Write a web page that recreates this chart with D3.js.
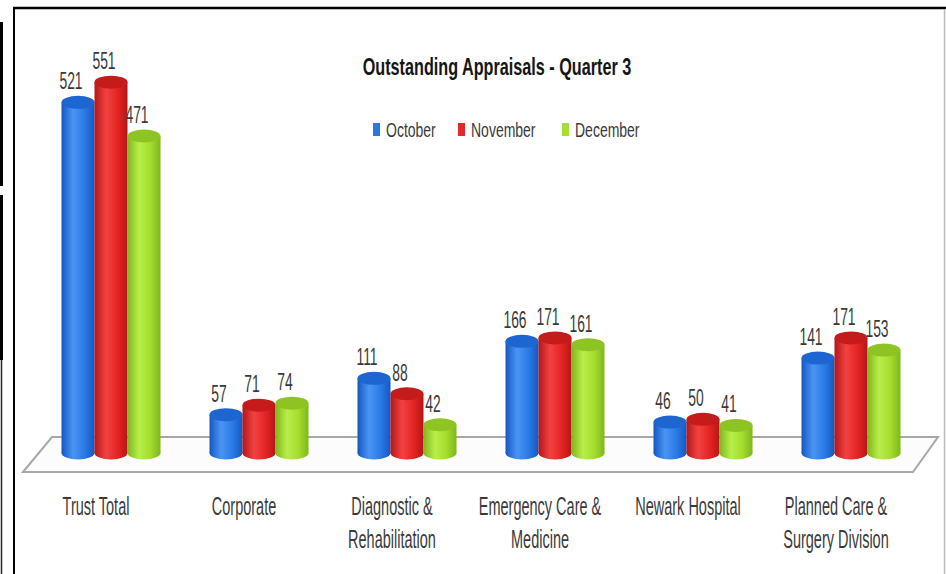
<!DOCTYPE html>
<html>
<head>
<meta charset="utf-8">
<script src="https://cdn.jsdelivr.net/npm/d3@7"></script>
<style>
  body { margin: 0; background: #fff; }
  svg { display: block; }
  text { font-family: "Liberation Sans", Arial, sans-serif; }
</style>
</head>
<body>
<div class="chart"></div>
<script>
var svgWidth = 946;
var svgHeight = 574;

// data
var categories = ["Trust Total", "Corporate", "Diagnostic & Rehabilitation",
  "Emergency Care & Medicine", "Newark Hospital", "Planned Care & Surgery Division"];
var categoryLines = [["Trust Total"], ["Corporate"], ["Diagnostic &", "Rehabilitation"],
  ["Emergency Care &", "Medicine"], ["Newark Hospital"], ["Planned Care &", "Surgery Division"]];
var seriesNames = ["October", "November", "December"];
var october = [521, 57, 111, 166, 46, 141];
var november = [551, 71, 88, 171, 50, 171];
var december = [471, 74, 42, 161, 41, 153];
var seriesValues = [october, november, december];

// shading per series: edge, body, highlight, top
var shades = [
  { edge: "#1657c2", body: "#2a7ae6", light: "#4a94f4", top: "#1d66d2", key: "#2a78e4" },
  { edge: "#b51616", body: "#e42424", light: "#f24242", top: "#c61b1b", key: "#e62828" },
  { edge: "#7fb61c", body: "#a4dc2e", light: "#b9ee4a", top: "#8dc424", key: "#a6e02e" }
];

var svg = d3.select(".chart")
  .append("svg")
  .attr("width", svgWidth)
  .attr("height", svgHeight);

var defs = svg.append("defs");
shades.forEach(function(s, i) {
  var g = defs.append("linearGradient")
    .attr("id", "cyl" + i)
    .attr("x1", "0%").attr("x2", "100%").attr("y1", "0%").attr("y2", "0%");
  g.append("stop").attr("offset", "0%").attr("stop-color", s.edge);
  g.append("stop").attr("offset", "35%").attr("stop-color", s.light);
  g.append("stop").attr("offset", "70%").attr("stop-color", s.body);
  g.append("stop").attr("offset", "100%").attr("stop-color", s.edge);
});

// frame bits around the picture
svg.append("rect").attr("x", 0).attr("y", 22).attr("width", 3).attr("height", 164).attr("fill", "#000");
svg.append("rect").attr("x", 0).attr("y", 195).attr("width", 3).attr("height", 165).attr("fill", "#000");
svg.append("line").attr("x1", 1.5).attr("x2", 1.5).attr("y1", 360).attr("y2", svgHeight)
  .attr("stroke", "#222").attr("stroke-width", 1.5);
svg.append("line").attr("x1", 13).attr("x2", svgWidth).attr("y1", 8).attr("y2", 8)
  .attr("stroke", "#000").attr("stroke-width", 2.5);
svg.append("line").attr("x1", 14).attr("x2", 14).attr("y1", 7).attr("y2", svgHeight)
  .attr("stroke", "#000").attr("stroke-width", 2);
svg.append("line").attr("x1", 944.5).attr("x2", 944.5).attr("y1", 9).attr("y2", svgHeight)
  .attr("stroke", "#bbb").attr("stroke-width", 1.5);

// condensed text helper
function label(parent, x, y, str, size, sx, weight, fill) {
  parent.append("g")
    .attr("transform", "translate(" + x + "," + y + ") scale(" + sx + ",1)")
    .append("text")
    .attr("text-anchor", "middle")
    .attr("font-size", size)
    .attr("font-weight", weight || "normal")
    .attr("fill", fill || "#3a3a3a")
    .text(str);
}

// scales
var x0 = d3.scaleBand().domain(categories).range([37, 925]).padding(0);
var x1 = d3.scaleBand().domain(seriesNames).range([-49.5, 49.5]).padding(0);
var y = d3.scaleLinear().domain([0, 600]).range([453, 453 - 0.673 * 600]);
var ry = 6.5;

// floor
svg.append("polygon")
  .attr("points", "23,472 52,437 938,437 913,472")
  .attr("fill", "#fcfcfc")
  .attr("stroke", "#a8a8a8")
  .attr("stroke-width", 2);

// title + legend
label(svg, 497, 75, "Outstanding Appraisals - Quarter 3", 23.5, 0.69, "bold", "#151515");

var legendX = [373, 458, 562];
seriesNames.forEach(function(name, i) {
  svg.append("rect").attr("x", legendX[i]).attr("y", 123).attr("width", 7).attr("height", 13)
    .attr("fill", shades[i].key);
  var g = svg.append("g").attr("transform", "translate(" + (legendX[i] + 13) + ",137) scale(0.7,1)");
  g.append("text").attr("font-size", 20).attr("fill", "#3a3a3a").text(name);
});

// cylinders
var groups = svg.selectAll(".grp")
  .data(categories)
  .enter()
  .append("g")
  .attr("class", "grp")
  .attr("transform", function(d) { return "translate(" + (x0(d) + x0.bandwidth() / 2) + ",0)"; });

groups.each(function(cat, ci) {
  var g = d3.select(this);
  seriesNames.forEach(function(name, si) {
    var v = seriesValues[si][ci];
    var left = x1(name);
    var w = x1.bandwidth();
    var cx = left + w / 2;
    g.append("ellipse")
      .attr("cx", cx).attr("cy", y(0)).attr("rx", w / 2).attr("ry", ry)
      .attr("fill", "url(#cyl" + si + ")");
    g.append("rect")
      .attr("x", left).attr("y", y(v)).attr("width", w).attr("height", y(0) - y(v))
      .attr("fill", "url(#cyl" + si + ")");
    g.append("ellipse")
      .attr("cx", cx).attr("cy", y(v)).attr("rx", w / 2).attr("ry", ry)
      .attr("fill", shades[si].top);
    label(g, cx - 7, y(v) - 13, v, 23.5, 0.59);
  });
});

// category labels
categories.forEach(function(cat, ci) {
  var cx = x0(cat) + x0.bandwidth() / 2 - 15;
  categoryLines[ci].forEach(function(line, li) {
    label(svg, cx, 515 + li * 33, line, 25, 0.58);
  });
});
</script>
</body>
</html>
